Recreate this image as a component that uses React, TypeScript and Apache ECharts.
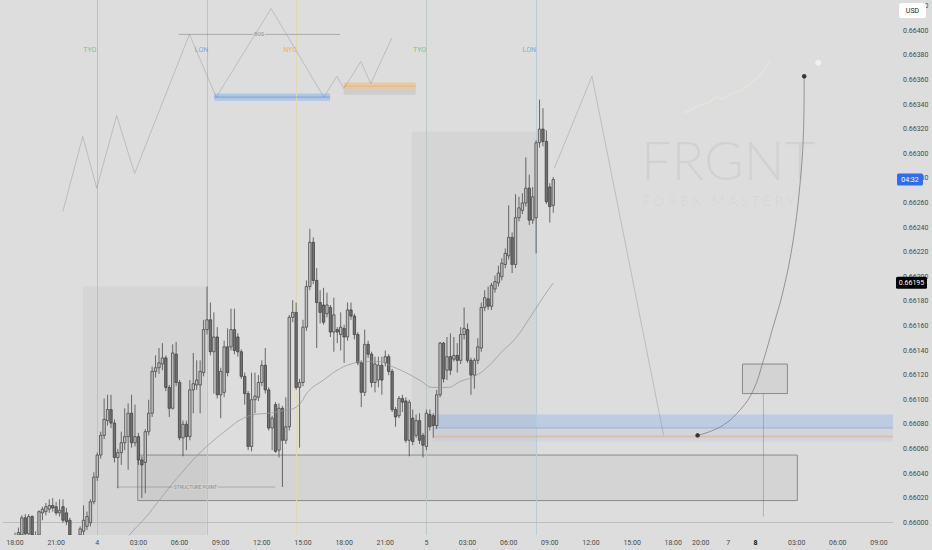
import React, { useEffect, useRef } from "react";
import * as echarts from "echarts";

// ---------- data ----------
const FIRST_SLOT = -3; // 15-minute slots, slot 0 = 18:00 on the 3rd
const OHLC: number[][] = [
  [0.65978, 0.65982, 0.65972, 0.65986], [0.65982, 0.65976, 0.6597, 0.65985], [0.65976, 0.65984, 0.65972, 0.65988],
  [0.65984, 0.65988, 0.65979, 0.65992], [0.65988, 0.65992, 0.65983, 0.65996], [0.6599, 0.66004, 0.65985, 0.66006],
  [0.66004, 0.65991, 0.65984, 0.66007], [0.65991, 0.66005, 0.65986, 0.66007], [0.66005, 0.6599, 0.65985, 0.66006],
  [0.6599, 0.65985, 0.65978, 0.65993], [0.65985, 0.66009, 0.65982, 0.6601], [0.66008, 0.66011, 0.66002, 0.66013],
  [0.66009, 0.66013, 0.66006, 0.66016], [0.66011, 0.66014, 0.66008, 0.66019], [0.66014, 0.66012, 0.66009, 0.6602],
  [0.66013, 0.66008, 0.66006, 0.66017], [0.66008, 0.6601, 0.66005, 0.66019], [0.66013, 0.66002, 0.66, 0.66019],
  [0.66008, 0.66001, 0.65998, 0.66012], [0.66002, 0.65986, 0.6598, 0.66004], [0.65986, 0.65978, 0.65972, 0.65989],
  [0.65978, 0.65984, 0.65974, 0.65988], [0.65984, 0.65995, 0.6598, 0.65997], [0.65993, 0.66002, 0.6599, 0.66014],
  [0.65997, 0.66005, 0.65994, 0.66009], [0.66, 0.66017, 0.65997, 0.66019], [0.66017, 0.66037, 0.66015, 0.66041],
  [0.66037, 0.66055, 0.66034, 0.66057], [0.66055, 0.66071, 0.66052, 0.66074], [0.66071, 0.66084, 0.66068, 0.66101],
  [0.66083, 0.66092, 0.66079, 0.66104], [0.66092, 0.66081, 0.66077, 0.66104], [0.66081, 0.66053, 0.66049, 0.66084],
  [0.66053, 0.66057, 0.66028, 0.6606], [0.66057, 0.66065, 0.66047, 0.66074], [0.66065, 0.6607, 0.66059, 0.66093],
  [0.6607, 0.66089, 0.66043, 0.66097], [0.66089, 0.66065, 0.66061, 0.66104], [0.66065, 0.6607, 0.66062, 0.66096],
  [0.6607, 0.66051, 0.66047, 0.66073], [0.66051, 0.66047, 0.6602, 0.66054], [0.66049, 0.66074, 0.66024, 0.66076],
  [0.66074, 0.66089, 0.66071, 0.661], [0.66089, 0.66123, 0.66086, 0.66127], [0.66123, 0.66126, 0.66118, 0.66136],
  [0.66126, 0.6613, 0.66121, 0.66142], [0.66129, 0.66134, 0.66124, 0.66146], [0.66134, 0.6611, 0.66107, 0.66136],
  [0.6611, 0.66093, 0.66086, 0.66112], [0.66093, 0.66138, 0.66092, 0.66145], [0.66137, 0.66114, 0.66111, 0.66147],
  [0.66114, 0.66069, 0.66067, 0.66116], [0.66069, 0.6608, 0.66054, 0.66083], [0.6608, 0.6607, 0.66059, 0.66083],
  [0.6607, 0.66108, 0.66067, 0.66116], [0.66108, 0.66113, 0.66089, 0.66138], [0.66112, 0.66116, 0.66108, 0.66132],
  [0.66112, 0.66123, 0.66089, 0.66132], [0.66122, 0.66157, 0.66119, 0.66165], [0.66157, 0.66165, 0.66153, 0.66192],
  [0.66165, 0.66139, 0.66136, 0.66179], [0.66139, 0.66151, 0.66105, 0.66171], [0.66151, 0.66104, 0.66101, 0.66159],
  [0.66104, 0.66123, 0.66085, 0.66126], [0.66106, 0.66143, 0.66102, 0.66148], [0.66143, 0.66122, 0.66119, 0.66158],
  [0.66143, 0.66157, 0.6614, 0.66174], [0.66157, 0.6614, 0.66137, 0.66174], [0.66151, 0.66139, 0.66135, 0.66154],
  [0.66139, 0.66119, 0.66117, 0.66141], [0.66119, 0.66105, 0.66096, 0.66122], [0.66105, 0.66062, 0.66059, 0.66107],
  [0.66062, 0.661, 0.66058, 0.66122], [0.661, 0.66103, 0.66089, 0.66122], [0.66102, 0.66114, 0.66099, 0.6612],
  [0.66114, 0.66128, 0.66111, 0.66132], [0.66128, 0.66108, 0.66105, 0.66142], [0.66108, 0.66077, 0.66075, 0.6611],
  [0.66077, 0.66085, 0.66059, 0.66087], [0.66096, 0.66058, 0.66057, 0.66098], [0.66059, 0.66093, 0.66053, 0.66097],
  [0.66093, 0.66067, 0.66029, 0.66095], [0.66067, 0.66078, 0.66064, 0.66102], [0.66078, 0.66167, 0.66075, 0.66169],
  [0.66167, 0.66171, 0.66163, 0.66181], [0.66171, 0.6611, 0.66108, 0.66179], [0.6611, 0.66114, 0.66061, 0.66117],
  [0.66114, 0.66159, 0.66111, 0.66165], [0.66159, 0.66192, 0.66156, 0.66197], [0.66192, 0.66228, 0.66189, 0.66239],
  [0.66228, 0.66197, 0.66194, 0.66232], [0.66197, 0.66179, 0.66142, 0.66207], [0.66179, 0.66171, 0.66162, 0.66189],
  [0.66177, 0.66163, 0.66161, 0.66191], [0.6617, 0.66177, 0.66167, 0.66187], [0.66175, 0.66155, 0.66151, 0.66177],
  [0.66155, 0.66169, 0.66139, 0.66183], [0.66157, 0.66155, 0.66146, 0.66159], [0.66153, 0.66159, 0.6614, 0.66171],
  [0.66158, 0.66151, 0.6613, 0.66161], [0.66151, 0.66173, 0.66148, 0.66179], [0.66173, 0.66168, 0.66165, 0.66179],
  [0.66168, 0.66153, 0.66149, 0.6617], [0.66153, 0.6613, 0.66128, 0.66155], [0.6613, 0.66106, 0.66094, 0.66132],
  [0.66106, 0.66145, 0.66103, 0.66157], [0.66145, 0.66137, 0.66134, 0.66148], [0.66137, 0.66114, 0.6611, 0.66139],
  [0.66114, 0.66129, 0.66106, 0.66135], [0.66116, 0.66128, 0.6611, 0.66135], [0.66128, 0.66116, 0.66104, 0.66135],
  [0.6613, 0.66135, 0.66127, 0.6614], [0.66135, 0.66123, 0.6612, 0.66137], [0.66123, 0.66092, 0.6609, 0.66125],
  [0.66092, 0.66086, 0.66078, 0.66094], [0.66087, 0.66101, 0.66085, 0.66103], [0.66101, 0.66098, 0.6609, 0.66104],
  [0.66099, 0.66067, 0.66065, 0.66102], [0.66067, 0.66098, 0.66054, 0.661], [0.66085, 0.66066, 0.66063, 0.66092],
  [0.66071, 0.66083, 0.66069, 0.66088], [0.66083, 0.66067, 0.66064, 0.66089], [0.66071, 0.66063, 0.66053, 0.66073],
  [0.66062, 0.66089, 0.66059, 0.66092], [0.66088, 0.66078, 0.66075, 0.66092], [0.66087, 0.66079, 0.66069, 0.66089],
  [0.66079, 0.66104, 0.66076, 0.66108], [0.66104, 0.66146, 0.66102, 0.66147], [0.66146, 0.66117, 0.66114, 0.66147],
  [0.66124, 0.66135, 0.66116, 0.66151], [0.66135, 0.66124, 0.6612, 0.66154], [0.66133, 0.66136, 0.66131, 0.66151],
  [0.66136, 0.66132, 0.66122, 0.66146], [0.66132, 0.66153, 0.66129, 0.66159], [0.66153, 0.66158, 0.66149, 0.66175],
  [0.66157, 0.66132, 0.6613, 0.66162], [0.66132, 0.6612, 0.66104, 0.66134], [0.6612, 0.66132, 0.66109, 0.66134],
  [0.66132, 0.66143, 0.66129, 0.6615], [0.66142, 0.66175, 0.66139, 0.66179], [0.66175, 0.66183, 0.66172, 0.66189],
  [0.66182, 0.66176, 0.66173, 0.66192], [0.66176, 0.66193, 0.66173, 0.66195], [0.6619, 0.66196, 0.66187, 0.66201],
  [0.66195, 0.66203, 0.66192, 0.66209], [0.662, 0.66211, 0.66197, 0.66215], [0.6621, 0.66219, 0.66207, 0.66223],
  [0.66217, 0.66232, 0.66214, 0.66258], [0.66232, 0.6621, 0.66203, 0.66236], [0.6621, 0.66248, 0.66207, 0.66267],
  [0.66248, 0.66256, 0.66245, 0.66265], [0.66254, 0.6626, 0.66251, 0.66268], [0.6626, 0.66272, 0.66257, 0.66297],
  [0.66272, 0.66246, 0.66242, 0.66283], [0.66246, 0.66265, 0.66243, 0.66273], [0.66248, 0.66309, 0.66219, 0.66311],
  [0.66309, 0.6632, 0.66305, 0.66344], [0.6632, 0.6631, 0.66306, 0.66337], [0.6631, 0.66261, 0.66259, 0.66319],
  [0.66273, 0.66257, 0.66244, 0.66276], [0.66258, 0.66279, 0.66252, 0.66281],
];

const MA_SLOTS = [30, 34, 38, 42, 46, 50, 54, 58, 62, 66, 70, 74, 78, 82, 86, 90, 94, 98, 102, 106, 110, 114, 118, 122, 126, 130, 134, 138, 142, 146, 150, 154, 157];
const MA_VALUES = [0.65978, 0.65992, 0.66004, 0.66018, 0.66032, 0.66045, 0.66057, 0.66067, 0.66076, 0.66084, 0.66088, 0.66089, 0.66091, 0.66094, 0.66108, 0.66116, 0.66124, 0.66129, 0.66131, 0.66131, 0.66127, 0.66122, 0.66116, 0.6611, 0.6611, 0.66115, 0.66119, 0.66127, 0.66139, 0.6615, 0.66166, 0.66183, 0.66195];

const TICK_SLOTS = [0, 12, 24, 36, 48, 60, 72, 84, 96, 108, 120, 132, 144, 156, 168, 180, 192, 200, 208, 216, 228, 240, 252];
const TICK_LABELS = ["18:00", "21:00", "4", "03:00", "06:00", "09:00", "12:00", "15:00", "18:00", "21:00", "5", "03:00", "06:00", "09:00", "12:00", "15:00", "18:00", "20:00", "7", "8", "03:00", "06:00", "09:00"];

const SESSION_SLOTS = [24, 56, 82, 120, 152];
const SESSION_LINE_COLORS = ["#b8c6b8", "#bcc4c2", "#e0d9b4", "#bcc8c4", "#b6cddc"];
const SESSION_NAMES = ["TYO", "LON", "NYC", "TYO", "LON"];
const SESSION_NAME_SLOTS = [21.8, 54.4, 80.2, 118, 150];
const SESSION_NAME_COLORS = ["#69b36b", "#5a9ee0", "#f0a240", "#69b36b", "#5a9ee0"];
const SESSION_NAME_PRICE = 0.66384;

const SCHEMATIC = [[13.95, 0.66253], [19.77, 0.66314], [23.84, 0.66272], [29.65, 0.66331], [34.88, 0.66284], [50.87, 0.66397], [58.72, 0.66346], [74.71, 0.66418], [90.12, 0.66346], [93.9, 0.66363], [95.93, 0.66353], [100.87, 0.66375], [103.78, 0.66357], [109.88, 0.66394]];
const PROJECTION = [[157.3, 0.66288], [168.3, 0.66363], [189.2, 0.66071]];
const CURVE = [[199.1, 0.66071], [205.8, 0.66078], [211.6, 0.66092], [215.4, 0.66108], [218.3, 0.66132], [220.9, 0.66157], [224.1, 0.66189], [227, 0.6623], [229.1, 0.66279], [230, 0.66319], [230.2, 0.66363]];
const BLACK_DOTS = [[199.1, 0.66071], [230.2, 0.66363]];
const WHITE_DOT = [234.3, 0.66374];

const HIGH_LINE = 0.66344;
const BOS_TOP = { from: 47.7, to: 94.8, price: 0.66397, labelSlot: 71.2 };
const STRUCT = { from: 29.65, to: 75.9, price: 0.66029, labelSlot: 52.6 };
const ZONE_BLUE = { from: 122.4, to: 256.1, top: 0.66088, line: 0.66077 };
const ZONE_ORANGE = { from: 122.1, to: 256.1, line: 0.6607, bottom: 0.66066 };
const TOP_BLUE = { from: 58.1, to: 91.9, top: 0.66349, line: 0.66346, bottom: 0.66343 };
const TOP_ORANGE = { from: 95.9, to: 116.9, top: 0.66358, line: 0.66355, bottom: 0.66352, shadow: 0.66348 };
const SHADE_LEFT = { from: 19.8, to: 55.8, top: 0.66192, bottom: 0.6599 };
const SHADE_MID = { from: 115.7, to: 152.3, top: 0.66318, bottom: 0.66055 };
const BOX_LOW = { from: 35.8, to: 228.2, top: 0.66055, bottom: 0.66018 };
const BOX_TARGET = { from: 212.2, to: 225.3, top: 0.66129, bottom: 0.66105, stem: 218.3, stemEnd: 0.66005 };

const Y_MIN = 0.6599;
const Y_MAX = 0.66425;
const X_MIN = -3.5;
const X_MAX = 256.1;
const BG = "#dddddd";

export default function App() {
  const ref = useRef<HTMLDivElement>(null);
  useEffect(() => {
    document.body.style.margin = "0";
    const chart = echarts.init(ref.current!, undefined, { renderer: "svg" });
    const candles = OHLC.map((c, i) => [FIRST_SLOT + i, c[0], c[1], c[2], c[3]]);
    const rect = (r: any, style: any) => [{ coord: [r.from, r.top], itemStyle: style }, { coord: [r.to, r.bottom] }];
    const seg = (a: number[], b: number[], color: string, width: number) => ({ coords: [a, b], lineStyle: { color, width } });
    const renderCandle = (params: any, api: any) => {
      const cs = params.coordSys;
      const yTop = cs.y;
      const yBot = cs.y + cs.height;
      const clampY = (v: number) => Math.min(Math.max(v, yTop), yBot);
      const x = api.value(0), o = api.value(1), c = api.value(2), l = api.value(3), h = api.value(4);
      const pO = api.coord([x, o]), pC = api.coord([x, c]), pL = api.coord([x, l]), pH = api.coord([x, h]);
      const w = 2.4;
      const top = clampY(Math.min(pO[1], pC[1]));
      const bot = clampY(Math.max(pO[1], pC[1]));
      const hi = clampY(pH[1]);
      const lo = clampY(pL[1]);
      const up = c >= o;
      const stroke = "#333333";
      const children: any[] = [];
      if (top - hi > 0) children.push({ type: "line", shape: { x1: pH[0], y1: hi, x2: pH[0], y2: top }, style: { stroke, lineWidth: 0.7 } });
      if (lo - bot > 0) children.push({ type: "line", shape: { x1: pL[0], y1: bot, x2: pL[0], y2: lo }, style: { stroke, lineWidth: 0.7 } });
      if (top < yBot) {
        children.push({ type: "rect", shape: { x: pO[0] - w / 2, y: top, width: w, height: Math.max(bot - top, 0.6) }, style: { fill: up ? "#c2c2c2" : "#727272", stroke, lineWidth: 0.7 } });
      }
      return { type: "group", children };
    };
    const option: any = {
      animation: false,
      backgroundColor: BG,
      textStyle: { fontFamily: "Roboto" },
      grid: { left: 0, right: 39, top: 0, bottom: 15 },
      xAxis: {
        type: "value", min: X_MIN, max: X_MAX, interval: 0.5,
        axisLine: { show: false }, axisTick: { show: false }, splitLine: { show: false },
        axisLabel: {
          margin: 4, fontSize: 7, color: "#4a4a4a",
          formatter: (v: number) => {
            const i = TICK_SLOTS.findIndex((s) => Math.abs(s - v) < 1e-6);
            if (i < 0) return "";
            return TICK_LABELS[i] === "8" ? "{b|8}" : TICK_LABELS[i];
          },
          rich: { b: { fontWeight: "bold", color: "#111", fontSize: 7 } },
        },
      },
      yAxis: {
        type: "value", position: "right", min: Y_MIN, max: Y_MAX, interval: 0.0001,
        axisLine: { show: false }, axisTick: { show: false }, splitLine: { show: false },
        axisLabel: {
          margin: 10, fontSize: 7, color: "#4a4a4a",
          formatter: (v: number) => (Math.abs(v * 5000 - Math.round(v * 5000)) < 1e-6 ? v.toFixed(5) : ""),
        },
      },
      series: [
        {
          type: "line", data: [], z: 1, silent: true,
          markArea: {
            silent: true, label: { show: false },
            data: [
              rect(SHADE_LEFT, { color: "rgba(0,0,0,0.035)" }),
              rect(SHADE_MID, { color: "rgba(0,0,0,0.035)" }),
              rect(BOX_LOW, { color: "rgba(0,0,0,0.04)", borderColor: "#8a8a8a", borderWidth: 1 }),
              rect(BOX_TARGET, { color: "rgba(0,0,0,0.045)", borderColor: "#8a8a8a", borderWidth: 1 }),
              [{ coord: [ZONE_BLUE.from, ZONE_BLUE.top], itemStyle: { color: "rgba(120,165,235,0.3)" } }, { coord: [ZONE_BLUE.to, ZONE_BLUE.line] }],
              [{ coord: [ZONE_ORANGE.from, ZONE_BLUE.line], itemStyle: { color: "rgba(190,195,215,0.3)" } }, { coord: [ZONE_ORANGE.to, ZONE_ORANGE.bottom] }],
              [{ coord: [TOP_BLUE.from, TOP_BLUE.top], itemStyle: { color: "rgba(120,170,240,0.45)" } }, { coord: [TOP_BLUE.to, TOP_BLUE.bottom] }],
              [{ coord: [TOP_ORANGE.from, TOP_ORANGE.top], itemStyle: { color: "rgba(240,180,100,0.45)" } }, { coord: [TOP_ORANGE.to, TOP_ORANGE.bottom] }],
              [{ coord: [TOP_ORANGE.from, TOP_ORANGE.bottom], itemStyle: { color: "rgba(0,0,0,0.07)" } }, { coord: [TOP_ORANGE.to, TOP_ORANGE.shadow] }],
            ],
          },
          markLine: {
            silent: true, symbol: ["none", "none"], label: { show: false },
            data: [
              ...SESSION_SLOTS.map((s, i) => ({ xAxis: s, lineStyle: { color: SESSION_LINE_COLORS[i], width: 1, type: "solid" } })),
              { yAxis: HIGH_LINE, lineStyle: { color: "#bdbdbd", width: 1, type: "solid" } },
            ],
          },
        },
        {
          type: "custom", data: candles, z: 5, silent: true, clip: true,
          encode: { x: 0, y: [1, 2, 3, 4] },
          renderItem: renderCandle,
        },
        {
          type: "line", data: MA_SLOTS.map((s, i) => [s, MA_VALUES[i]]), smooth: true, symbol: "none", z: 6, silent: true,
          lineStyle: { color: "#9a9a9a", width: 0.8 },
        },
        {
          type: "lines", coordinateSystem: "cartesian2d", polyline: true, z: 7, silent: true,
          symbol: ["none", "none"],
          data: [
            seg([BOS_TOP.from, BOS_TOP.price], [BOS_TOP.to, BOS_TOP.price], "#7c7c7c", 1),
            seg([TOP_BLUE.from, TOP_BLUE.line], [TOP_BLUE.to, TOP_BLUE.line], "#4f8fe8", 1.2),
            seg([TOP_ORANGE.from, TOP_ORANGE.line], [TOP_ORANGE.to, TOP_ORANGE.line], "#f0a850", 1.2),
            seg([STRUCT.from, STRUCT.price], [STRUCT.to, STRUCT.price], "#6f6f6f", 0.8),
            seg([ZONE_BLUE.from, ZONE_BLUE.line], [ZONE_BLUE.to, ZONE_BLUE.line], "#5b98ec", 1.2),
            seg([ZONE_ORANGE.from, ZONE_ORANGE.line], [ZONE_ORANGE.to, ZONE_ORANGE.line], "#d8af7c", 2),
            seg([BOX_TARGET.stem, BOX_TARGET.bottom], [BOX_TARGET.stem, BOX_TARGET.stemEnd], "#6f6f6f", 0.8),
          ],
        },
        {
          type: "lines", coordinateSystem: "cartesian2d", polyline: true, z: 7, silent: true,
          symbol: ["none", "arrow"], symbolSize: 5,
          lineStyle: { color: "#8d8d8d", width: 0.8 },
          data: [{ coords: SCHEMATIC }, { coords: PROJECTION }],
        },
        {
          type: "line", data: CURVE, smooth: 0.4, symbol: "none", z: 7, silent: true,
          lineStyle: { color: "#808080", width: 0.8 },
        },
        {
          type: "scatter", z: 8, silent: true, symbolSize: 4.5,
          itemStyle: { color: "#111" },
          data: BLACK_DOTS,
        },
        {
          type: "scatter", z: 8, silent: true, symbolSize: 6,
          itemStyle: { color: "#f6f6f6" },
          data: [WHITE_DOT],
        },
        {
          type: "scatter", z: 9, silent: true, symbolSize: 0,
          data: [
            ...SESSION_NAMES.map((n, i) => ({
              value: [SESSION_NAME_SLOTS[i], SESSION_NAME_PRICE],
              label: { show: true, position: "inside", formatter: n, color: SESSION_NAME_COLORS[i], fontSize: 7 },
            })),
            {
              value: [BOS_TOP.labelSlot, BOS_TOP.price],
              label: { show: true, position: "inside", formatter: "BOS", color: "#777", fontSize: 5, backgroundColor: BG, padding: [0, 1] },
            },
            {
              value: [STRUCT.labelSlot, STRUCT.price],
              label: { show: true, position: "inside", formatter: "STRUCTURE POINT", color: "#777", fontSize: 5, backgroundColor: "#d6d6d6", padding: [0, 1] },
            },
          ],
        },
      ],
    };
    chart.setOption(option);

    const lastClose = OHLC[OHLC.length - 1][1];
    const maLast = MA_VALUES[MA_VALUES.length - 1];
    const yLast = chart.convertToPixel({ yAxisIndex: 0 }, lastClose) as number;
    const yMa = chart.convertToPixel({ yAxisIndex: 0 }, maLast) as number;
    chart.setOption({
      graphic: [
        { type: "text", x: 641, y: 159, silent: true, z: 0, style: { text: "FRGNT", font: "300 54px Lato", fill: "rgba(0,0,0,0.05)", align: "left", verticalAlign: "middle" } },
        { type: "text", x: 642, y: 200, silent: true, z: 0, style: { text: "F O R E X   M A S T E R Y", font: "14px Lato", fill: "rgba(0,0,0,0.04)", align: "left", verticalAlign: "middle" } },
        { type: "text", x: 338, y: 256, silent: true, z: 0, style: { text: "AUDUSD, 15", font: "44px Lato", fill: "rgba(0,0,0,0.025)", align: "left", verticalAlign: "middle" } },
        { type: "polyline", silent: true, z: 0, shape: { points: [[684, 113], [698, 106], [708, 103], [716, 97], [724, 99], [733, 93], [742, 90], [752, 82], [761, 74], [770, 61]] }, style: { stroke: "#e3e3dd", lineWidth: 2, fill: null } },
        { type: "rect", z: 100, silent: true, shape: { x: 899, y: 3, width: 27, height: 15, r: 2 }, style: { fill: "#ffffff" } },
        { type: "text", z: 101, silent: true, x: 912.5, y: 10.5, style: { text: "USD", font: "7px Roboto", fill: "#222", align: "center", verticalAlign: "middle" } },
        { type: "rect", z: 100, silent: true, shape: { x: 897, y: yLast - 6, width: 26, height: 12, r: 1.5 }, style: { fill: "#2f6cf3" } },
        { type: "text", z: 101, silent: true, x: 910, y: yLast, style: { text: "04:32", font: "7px Roboto", fill: "#ffffff", align: "center", verticalAlign: "middle" } },
        { type: "rect", z: 100, silent: true, shape: { x: 896, y: yMa - 6, width: 31, height: 12, r: 1.5 }, style: { fill: "#000000" } },
        { type: "text", z: 101, silent: true, x: 911.5, y: yMa, style: { text: maLast.toFixed(5), font: "7px Roboto", fill: "#ffffff", align: "center", verticalAlign: "middle" } },
      ],
    });
    return () => chart.dispose();
  }, []);
  return <div ref={ref} style={{ width: 932, height: 550 }} />;
}
